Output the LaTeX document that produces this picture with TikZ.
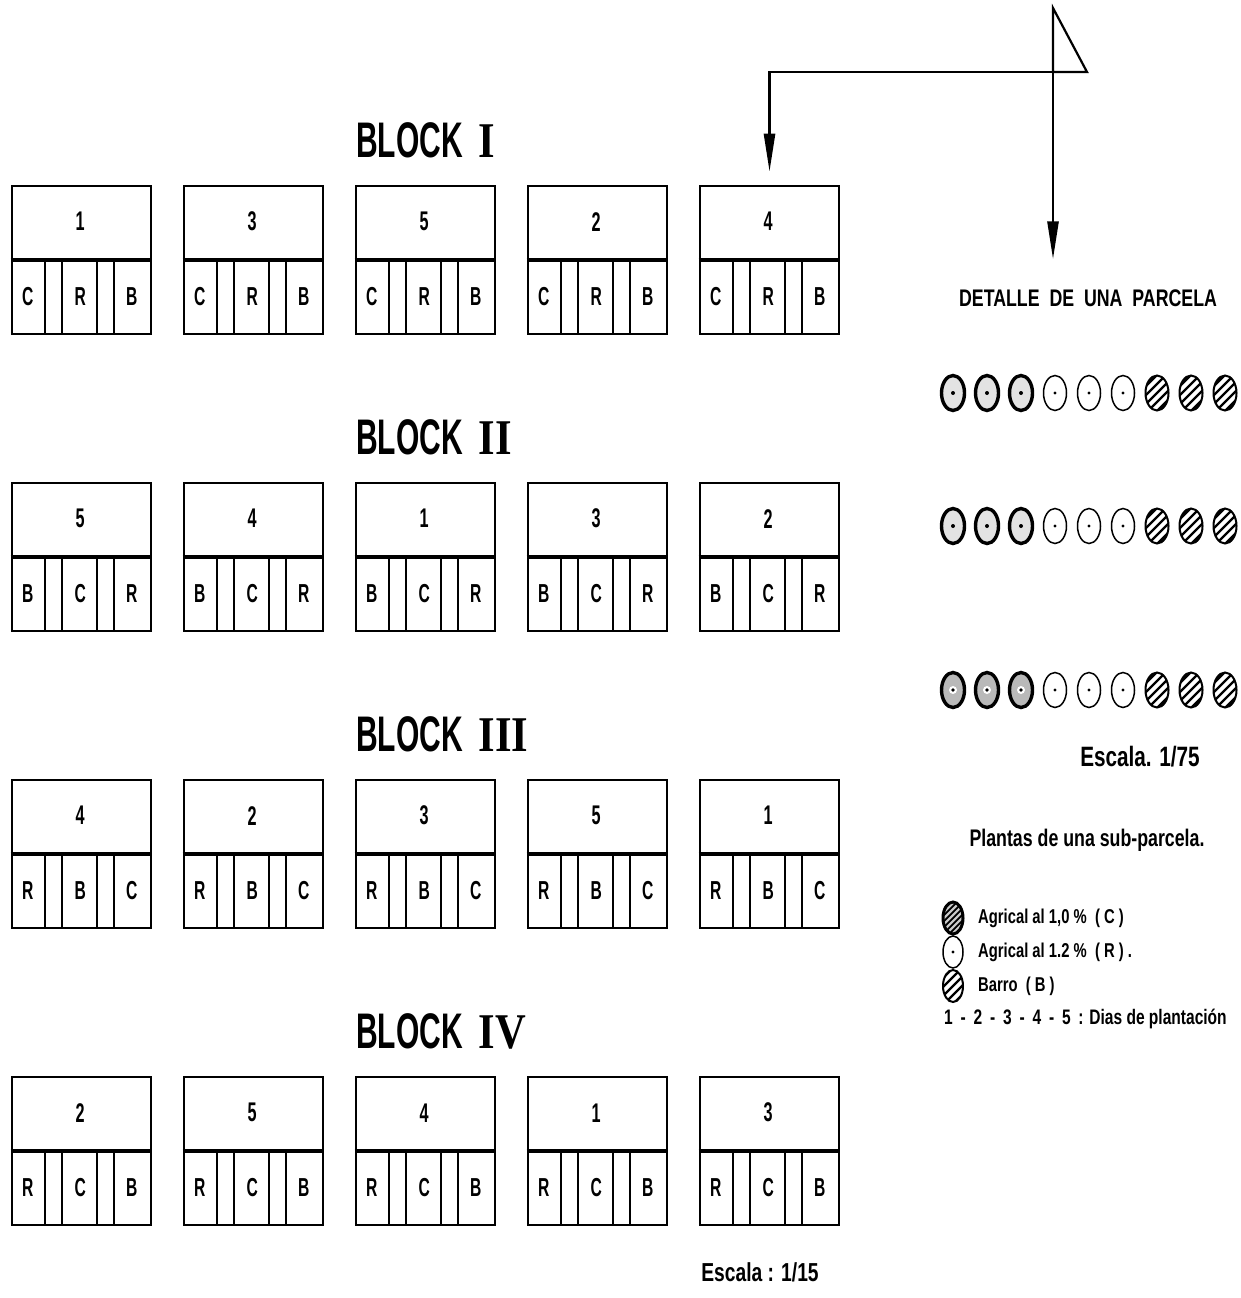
\documentclass[tikz,border=0pt]{standalone}
\usepackage{fontspec}
\setmainfont{Liberation Sans}
\newfontfamily\letfont{Liberation Sans}[FakeStretch=0.6]
\newfontfamily\notefont{Liberation Sans}[FakeStretch=0.74]
\newfontfamily\romfont{Liberation Serif}[FakeStretch=0.85]
\usetikzlibrary{arrows.meta,calc}

% one row of five plots: #1 block id, #2 top edge, #3 plot numbers, #4-#6 sub-plot letters
\newcommand\plotrow[6]{%
  \foreach \n [count=\i] in {#3} {
    \pgfmathsetmacro\plotx{12+172*(\i-1)}
    \node[plot] (b#1p\i) at (\plotx+69.5, #2+74) {};
    \draw[midline] (b#1p\i.west) -- (b#1p\i.east);
    \foreach \dx in {34,51,86,103}
      \draw[divider] ($(b#1p\i.west)+(\dx,0)$) -- ($(b#1p\i.south west)+(\dx,0)$);
    \node[numlbl] (b#1n\i) at ($(b#1p\i.north west)+(69.5,37)$) {\n};
    \node[cell] (b#1a\i) at ($(b#1p\i.west)+(17,37)$) {#4};
    \node[cell] (b#1b\i) at ($(b#1p\i.west)+(69.5,37)$) {#5};
    \node[cell] (b#1c\i) at ($(b#1p\i.west)+(121,37)$) {#6};
  }%
}

\begin{document}
\begin{tikzpicture}[x=1pt,y=-1pt,
  plot/.style={draw,line width=2.6pt,minimum width=139pt,minimum height=148pt,inner sep=0pt},
  midline/.style={line width=3.4pt},
  divider/.style={line width=1.6pt},
  numlbl/.style={font=\letfont\bfseries\fontsize{27}{27}\selectfont,inner sep=0pt},
  cell/.style={font=\letfont\bfseries\fontsize{26}{26}\selectfont,inner sep=0pt},
  title/.style={font=\letfont\bfseries\fontsize{50}{50}\selectfont,anchor=west,inner sep=0pt},
  note/.style={font=\notefont\bfseries\fontsize{24}{24}\selectfont,inner sep=0pt},
  keytext/.style={font=\notefont\bfseries\fontsize{20}{20}\selectfont,inner sep=0pt,anchor=west},
  conn/.style={line width=2.6pt},
  tip/.style={-{Triangle[length=38pt,width=11pt]}},
  plantC/.pic={\draw[line width=3.4pt,fill=gray!22] (0,0) ellipse (11.5 and 17.5);
               \fill (0,0) circle (2);},
  plantCd/.pic={\draw[line width=3.4pt,fill=gray!55] (0,0) ellipse (11.5 and 17.5);
                \fill[white] (0,0) circle (4);\fill (0,0) circle (1.8);},
  plantR/.pic={\draw[line width=1.5pt] (0,0) ellipse (11.5 and 17.5);
               \fill (0,0) circle (1.7);},
  plantB/.pic={\begin{scope}\clip (0,0) ellipse (11.5 and 17.5);
               \foreach \k in {-36,-27,...,36} \draw[line width=2.4pt] (-16,\k+16) -- (16,\k-16);
               \end{scope}
               \draw[line width=2pt] (0,0) ellipse (11.5 and 17.5);},
  keyC/.pic={\begin{scope}\clip (0,0) ellipse (10 and 16);
             \fill[gray!40] (0,0) ellipse (10 and 16);
             \foreach \k in {-36,-30,...,36} \draw[line width=1.8pt] (-16,\k+16) -- (16,\k-16);
             \end{scope}
             \draw[line width=3pt] (0,0) ellipse (10 and 16);},
  keyR/.pic={\draw[line width=1.5pt] (0,0) ellipse (10 and 16);
             \fill (0,0) circle (1.6);},
  keyB/.pic={\begin{scope}\clip (0,0) ellipse (10 and 16);
             \foreach \k in {-36,-27,...,36} \draw[line width=2.4pt] (-16,\k+16) -- (16,\k-16);
             \end{scope}
             \draw[line width=2pt] (0,0) ellipse (10 and 16);}
]
\useasboundingbox (0,0) rectangle (1240,1298);

% block titles
\node[title] (t1) at (356,140) {BLOCK\hspace{16pt}{\romfont I}};
\node[title] (t2) at (356,437) {BLOCK\hspace{16pt}{\romfont II}};
\node[title] (t3) at (356,734) {BLOCK\hspace{16pt}{\romfont III}};
\node[title] (t4) at (356,1031) {BLOCK\hspace{16pt}{\romfont IV}};

% plots
\plotrow{1}{186}{1,3,5,2,4}{C}{R}{B}
\plotrow{2}{483}{5,4,1,3,2}{B}{C}{R}
\plotrow{3}{780}{4,2,3,5,1}{R}{B}{C}
\plotrow{4}{1077}{2,5,4,1,3}{R}{C}{B}

\node[note,font=\notefont\bfseries\fontsize{26}{26}\selectfont] (scaleA) at (760,1272) {Escala : 1/15};

% detail of one plot
\node[note] (detail) at (1088,298) {DETALLE \ DE \ UNA \ PARCELA};

\coordinate (junction) at (1053,72);
\coordinate (apex) at (1053,8);
\coordinate (hook) at (1087,72);
\coordinate (corner) at (b1p5.north |- junction);
\draw[line width=2.2pt,line join=miter] (apex) -- (junction) -- (hook) -- cycle;
\draw[conn,tip,shorten >=13pt] (hook) -- (corner) -- (b1p5.north);
\draw[conn,tip,shorten >=30pt] (junction) -- (junction |- detail.north);

% plants of the plot
\foreach \k in {0,1,2} {
  \pic at (953+34*\k,393) {plantC};
  \pic at (953+34*\k,526) {plantC};
  \pic at (953+34*\k,690) {plantCd};
}
\foreach \k in {3,4,5} {
  \pic at (953+34*\k,393) {plantR};
  \pic at (953+34*\k,526) {plantR};
  \pic at (953+34*\k,690) {plantR};
}
\foreach \k in {6,7,8} {
  \pic at (953+34*\k,393) {plantB};
  \pic at (953+34*\k,526) {plantB};
  \pic at (953+34*\k,690) {plantB};
}

\node[note,font=\notefont\bfseries\fontsize{28}{28}\selectfont] (scaleB) at (1140,757) {Escala. 1/75};
\node[note] (subplot) at (1087,840) {Plantas de una sub-parcela.};

% key
\pic at (953,918) {keyC};
\pic at (953,952) {keyR};
\pic at (953,986) {keyB};
\node[keytext] (keyCt) at (978,918) {Agrical al 1,0 \% \ ( C )};
\node[keytext] (keyRt) at (978,952) {Agrical al 1.2 \% \ ( R ) .};
\node[keytext] (keyBt) at (978,986) {Barro \ ( B )};
\node[keytext,font=\notefont\bfseries\fontsize{21}{21}\selectfont] (days) at (944,1019)
  {1 \,-\, 2 \,-\, 3 \,-\, 4 \,-\, 5 \,: Dias de plantación};
\end{tikzpicture}
\end{document}
